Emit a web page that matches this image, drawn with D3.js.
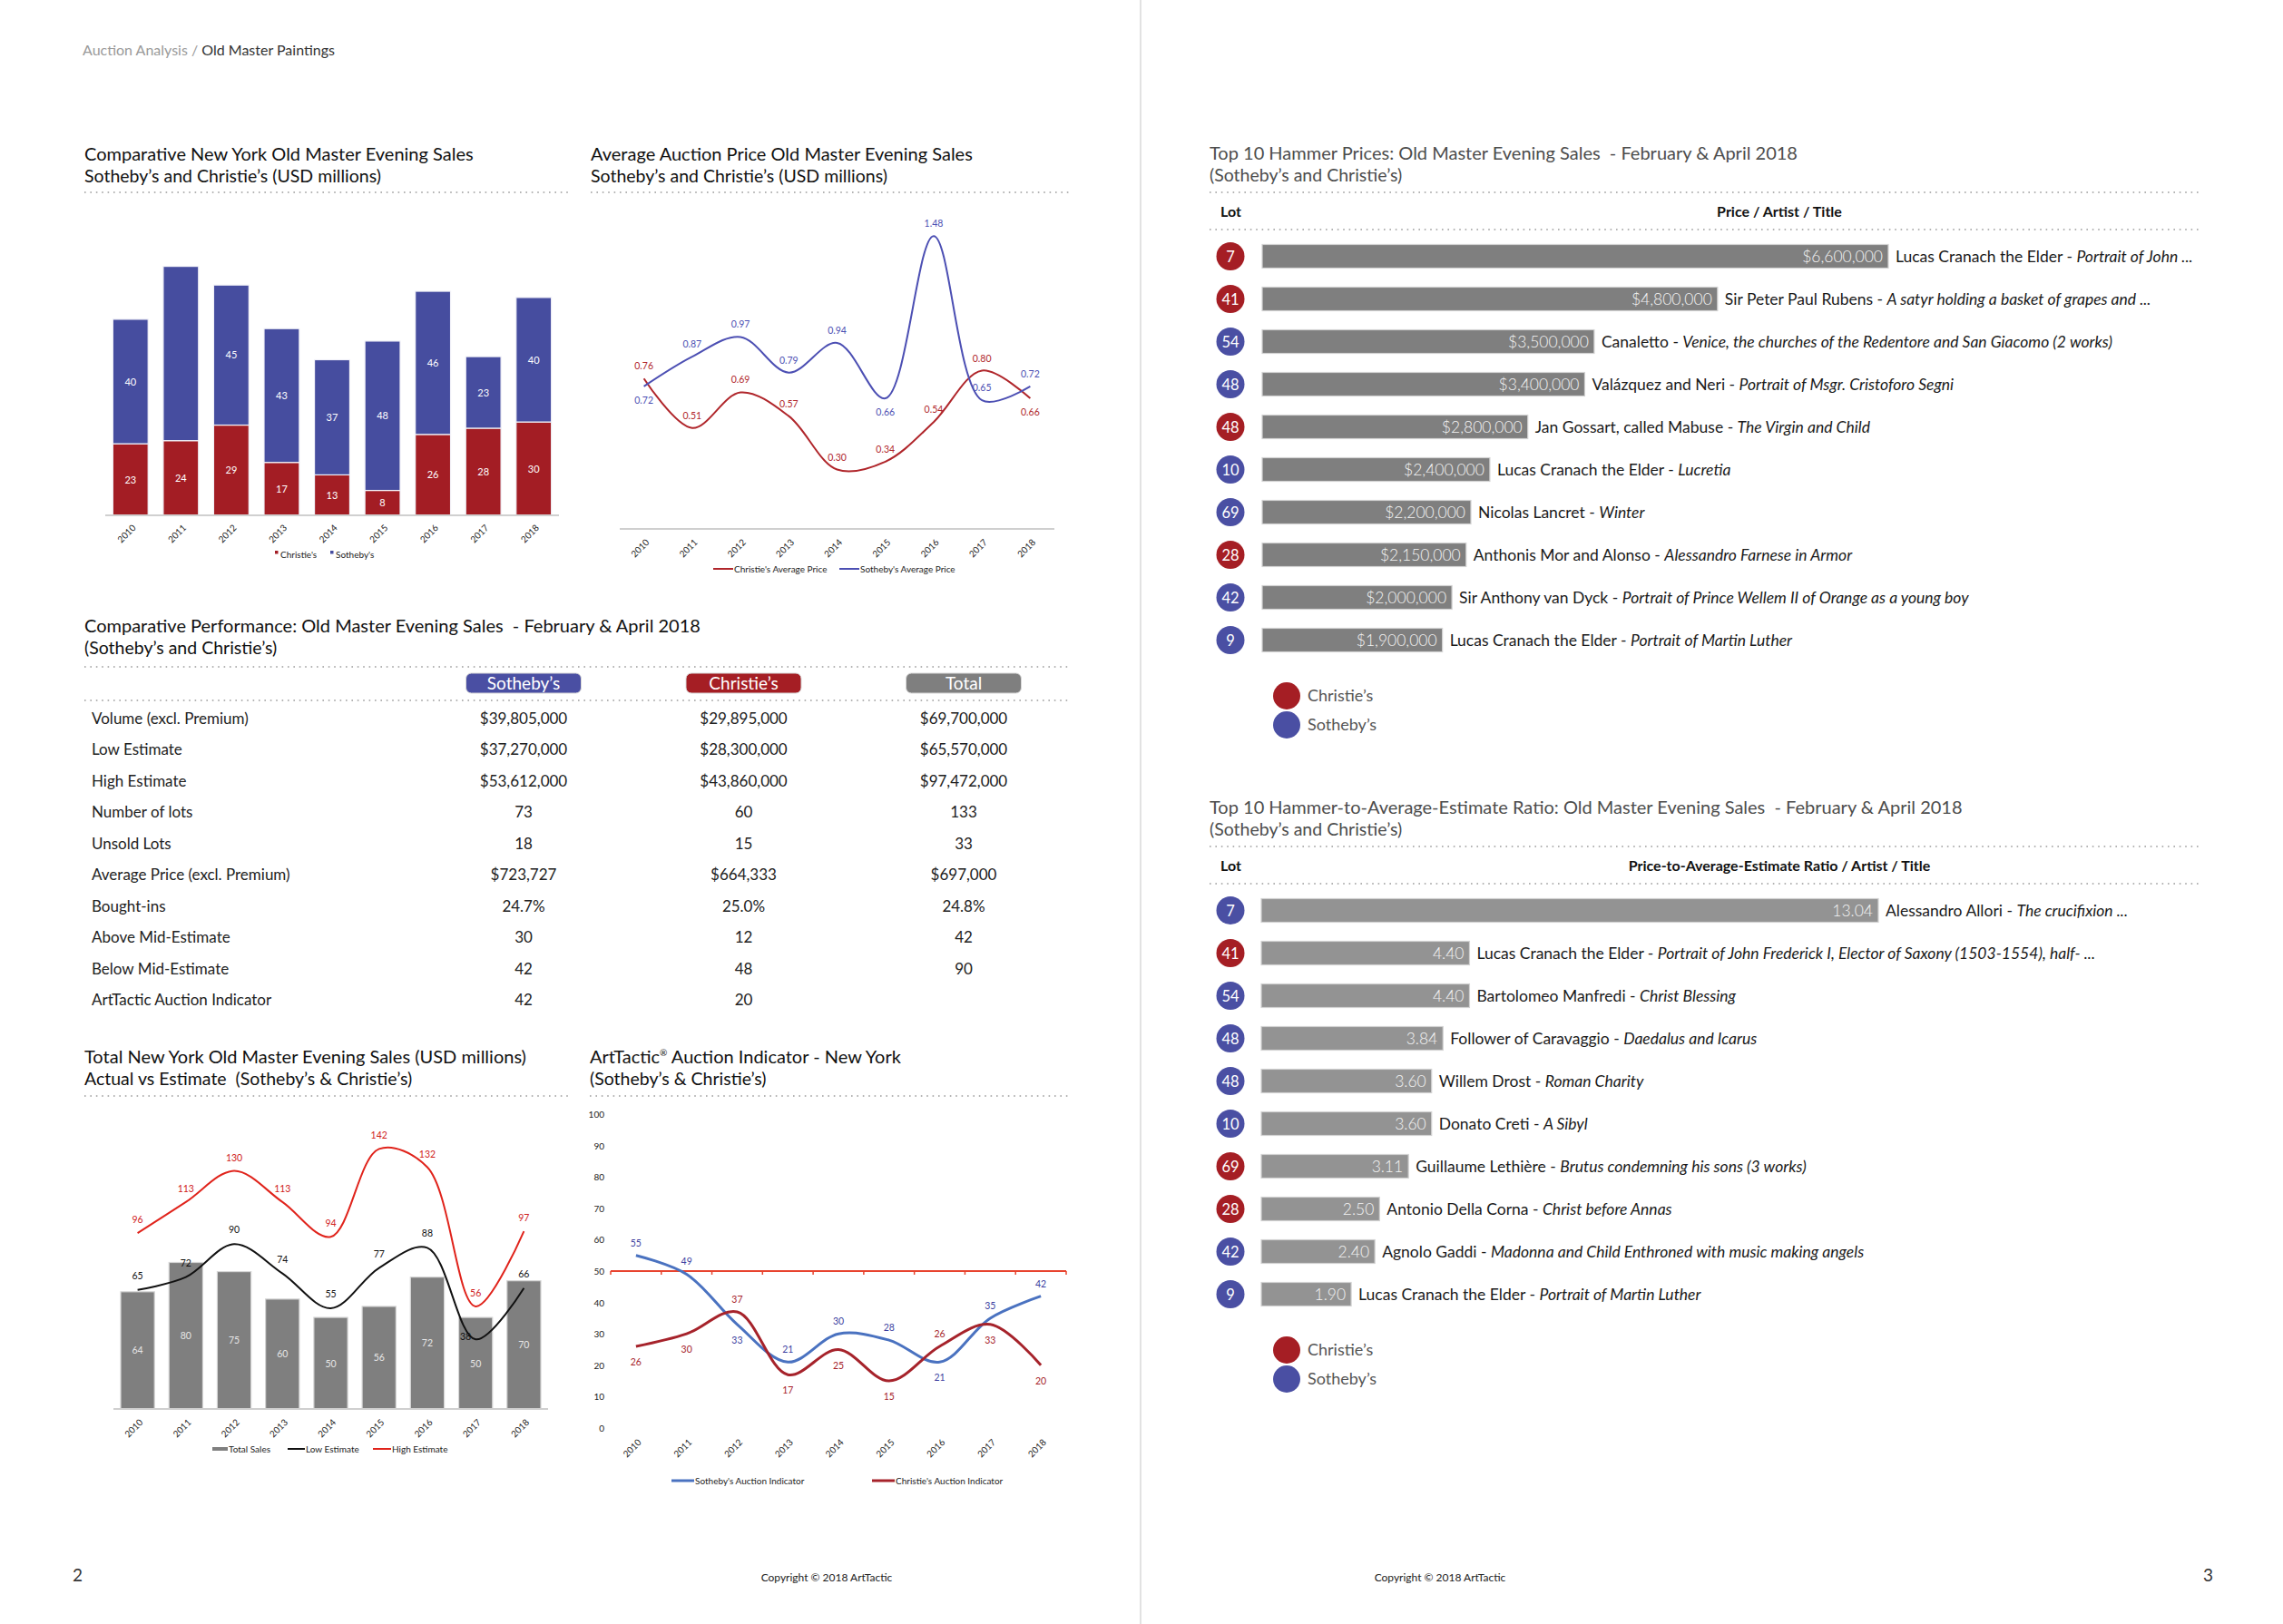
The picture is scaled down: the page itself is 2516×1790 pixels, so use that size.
<!DOCTYPE html>
<html><head><meta charset="utf-8">
<script src="https://cdn.jsdelivr.net/npm/d3@7"></script>
<style>
html,body{margin:0;padding:0;background:#fff;}
svg{display:block;font-family:Lato,"Open Sans",sans-serif;}
</style></head><body>
<svg id="page" width="2516" height="1790"></svg>
<script>
// ---------------- DATA ----------------
const years = ["2010","2011","2012","2013","2014","2015","2016","2017","2018"];

// Comparative NY Old Master Evening Sales (USD m)
const christieSales = [23,24,29,17,13,8,26,28,30];
const sothebySales  = [40,56,45,43,37,48,46,23,40];
const sothebySalesShowLabel = [true,false,true,true,true,true,true,true,true];

// Average auction price (USD m)
const christieAvg = [0.76,0.51,0.69,0.57,0.30,0.34,0.54,0.80,0.66];
const sothebyAvg  = [0.72,0.87,0.97,0.79,0.94,0.66,1.48,0.65,0.72];
const christieAvgLabelPos = ["above","above","above","above","above","above","above","above","below"];
const sothebyAvgLabelPos  = ["below","above","above","above","above","below","above","above","above"];

// Total NY sales vs estimate
const totalSales   = [64,80,75,60,50,56,72,50,70];
const lowEstimate  = [65,72,90,74,55,77,88,38,66];
const highEstimate = [96,113,130,113,94,142,132,56,97];
const lowLabelPos  = ["above","above","above","above","above","above","above","left","above"];

// ArtTactic auction indicator
const sothebyIndicator  = [55,49,33,21,30,28,21,35,42];
const christieIndicator = [26,30,37,17,25,15,26,33,20];
const sothebyIndLabelPos  = ["above","above","below","above","above","above","below","above","above"];
const christieIndLabelPos = ["below","below","above","below","below","below","above","below","below"];
const indicatorTicks = [0,10,20,30,40,50,60,70,80,90,100];

// Comparative performance table
const tableColumns = ["Sotheby's","Christie's","Total"];
const tableRowLabels = ["Volume (excl. Premium)","Low Estimate","High Estimate","Number of lots","Unsold Lots","Average Price (excl. Premium)","Bought-ins","Above Mid-Estimate","Below Mid-Estimate","ArtTactic Auction Indicator"];
const sothebyTable  = ["$39,805,000","$37,270,000","$53,612,000","73","18","$723,727","24.7%","30","42","42"];
const christieTable = ["$29,895,000","$28,300,000","$43,860,000","60","15","$664,333","25.0%","12","48","20"];
const totalTable    = ["$69,700,000","$65,570,000","$97,472,000","133","33","$697,000","24.8%","42","90",""];

// Top 10 hammer prices
const hammerLots   = [7,41,54,48,48,10,69,28,42,9];
const hammerHouse  = ["C","C","S","S","C","S","S","C","S","S"];
const hammerPrices = [6600000,4800000,3500000,3400000,2800000,2400000,2200000,2150000,2000000,1900000];
const hammerArtists = ["Lucas Cranach the Elder","Sir Peter Paul Rubens","Canaletto","Valázquez and Neri","Jan Gossart, called Mabuse","Lucas Cranach the Elder","Nicolas Lancret","Anthonis Mor and Alonso","Sir Anthony van Dyck","Lucas Cranach the Elder"];
const hammerTitles = ["Portrait of John ...","A satyr holding a basket of grapes and ...","Venice, the churches of the Redentore and San Giacomo (2 works)","Portrait of Msgr. Cristoforo Segni","The Virgin and Child","Lucretia","Winter","Alessandro Farnese in Armor","Portrait of Prince Wellem II of Orange as a young boy","Portrait of Martin Luther"];

// Top 10 hammer-to-average-estimate ratio
const ratioLots   = [7,41,54,48,48,10,69,28,42,9];
const ratioHouse  = ["S","C","S","S","S","S","C","C","S","S"];
const ratioValues = [13.04,4.40,4.40,3.84,3.60,3.60,3.11,2.50,2.40,1.90];
const ratioArtists = ["Alessandro Allori","Lucas Cranach the Elder","Bartolomeo Manfredi","Follower of Caravaggio","Willem Drost","Donato Creti","Guillaume Lethière","Antonio Della Corna","Agnolo Gaddi","Lucas Cranach the Elder"];
const ratioTitles = ["The crucifixion ...","Portrait of John Frederick I, Elector of Saxony (1503-1554), half- ...","Christ Blessing","Daedalus and Icarus","Roman Charity","A Sibyl","Brutus condemning his sons (3 works)","Christ before Annas","Madonna and Child Enthroned with music making angels","Portrait of Martin Luther"];

// ---------------- DRAWING ----------------
const RED = "#a31d24", BLUE = "#464d9f", GREY = "#7f7f7f";
const svg = d3.select("#page");
svg.append("rect").attr("width",2516).attr("height",1790).attr("fill","#fff");

// page divider
svg.append("line").attr("x1",1257).attr("x2",1257).attr("y1",0).attr("y2",1790).attr("stroke","#cfcfcf").attr("stroke-width",1.2);

// header
const hdr = svg.append("text").attr("x",91).attr("y",61).attr("font-size",16);
hdr.append("tspan").attr("fill","#9a9a9a").text("Auction Analysis / ");
hdr.append("tspan").attr("fill","#333").text("Old Master Paintings");

// footer
svg.append("text").attr("x",80).attr("y",1743).attr("font-size",19).attr("fill","#333").text("2");
svg.append("text").attr("x",2428).attr("y",1743).attr("font-size",19).attr("fill","#333").text("3");
svg.append("text").attr("x",911).attr("y",1743).attr("font-size",12).attr("text-anchor","middle").attr("fill","#222").text("Copyright © 2018 ArtTactic");
svg.append("text").attr("x",1587).attr("y",1743).attr("font-size",12).attr("text-anchor","middle").attr("fill","#222").text("Copyright © 2018 ArtTactic");

function titleBlock(x, y, l1, l2, color, size){
  const s = size || 20;
  svg.append("text").attr("x",x).attr("y",y).attr("font-size",s).attr("fill",color||"#111").text(l1);
  svg.append("text").attr("x",x).attr("y",y+23.5).attr("font-size",s-0.5).attr("fill",color||"#111").text(l2);
}
function dotted(x1,x2,y){
  svg.append("line").attr("x1",x1).attr("x2",x2).attr("y1",y).attr("y2",y)
    .attr("stroke","#9c9c9c").attr("stroke-width",1.6).attr("stroke-dasharray","1.6 4.8");
}
function yearLabels(g, xf, y0){
  g.append("g").selectAll("text").data(years).join("text")
    .attr("transform", d => `translate(${xf(d)+4},${y0}) rotate(-45)`)
    .attr("text-anchor","end").attr("dy","0.35em").attr("font-size",10).attr("fill","#222").text(d=>d);
}
function offsetY(pos){ return pos==="above" ? -10 : pos==="below" ? 19 : 3; }

// ===== Chart 1: stacked bars =====
{
  titleBlock(93,177,"Comparative New York Old Master Evening Sales","Sotheby’s and Christie’s (USD millions)");
  dotted(93,626,212);
  const g = svg.append("g");
  const x = d3.scaleBand(years,[116,616]).paddingInner(0.3).paddingOuter(0.15);
  const y = d3.scaleLinear([0,100],[568,225]);
  const rows = years.map((yr,i)=>({year:yr, christie:christieSales[i], sotheby:sothebySales[i], i}));
  const stack = d3.stack().keys(["christie","sotheby"])(rows);
  const cols = {christie:RED, sotheby:BLUE};
  stack.forEach(layer=>{
    g.append("g").selectAll("rect").data(layer).join("rect")
      .attr("x",d=>x(d.data.year)).attr("width",x.bandwidth())
      .attr("y",d=>y(d[1])).attr("height",d=>y(d[0])-y(d[1]))
      .attr("fill",cols[layer.key]).attr("stroke","#f2f2f8").attr("stroke-width",1.2);
    g.append("g").selectAll("text").data(layer.filter(d=> layer.key==="christie" || sothebySalesShowLabel[d.data.i])).join("text")
      .attr("x",d=>x(d.data.year)+x.bandwidth()/2).attr("y",d=>y((d[0]+d[1])/2)+4)
      .attr("text-anchor","middle").attr("font-size",11).attr("fill","#fff").text(d=>d.data[layer.key]);
  });
  g.append("line").attr("x1",116).attr("x2",616).attr("y1",568).attr("y2",568).attr("stroke","#d0d0d0").attr("stroke-width",2);
  yearLabels(g, d=>x(d)+x.bandwidth()/2, 580);
  const lg = g.append("g").attr("font-size",10).attr("fill","#222");
  [["Christie's",RED,303],["Sotheby's",BLUE,364]].forEach(([t,c,lx])=>{
    lg.append("rect").attr("x",lx).attr("y",607).attr("width",3.5).attr("height",3.5).attr("fill",c);
    lg.append("text").attr("x",lx+6).attr("y",615).text(t);
  });
}

// ===== Chart 2: average price lines =====
{
  titleBlock(651,177,"Average Auction Price Old Master Evening Sales","Sotheby’s and Christie’s (USD millions)");
  dotted(651,1181,212);
  const g = svg.append("g");
  const x = d3.scalePoint(years,[683,1162]).padding(0.5);
  const y = d3.scaleLinear([0,1.6],[583,234]);
  g.append("line").attr("x1",683).attr("x2",1162).attr("y1",583).attr("y2",583).attr("stroke","#cfcfcf").attr("stroke-width",2);
  const line = d3.line().x((d,i)=>x(years[i])).y(d=>y(d)).curve(d3.curveCatmullRom.alpha(0.5));
  const series = [
    {vals:christieAvg, pos:christieAvgLabelPos, col:"#b0262b"},
    {vals:sothebyAvg, pos:sothebyAvgLabelPos, col:"#4c4fb3"}
  ];
  series.forEach(s=>{
    g.append("path").attr("d",line(s.vals)).attr("fill","none").attr("stroke",s.col).attr("stroke-width",2);
  });
  series.forEach(s=>{
    g.append("g").selectAll("text").data(s.vals).join("text")
      .attr("x",(d,i)=>x(years[i])).attr("y",(d,i)=>y(d)+offsetY(s.pos[i]))
      .attr("text-anchor","middle").attr("font-size",10.5).attr("fill",s.col).text(d=>d.toFixed(2));
  });
  yearLabels(g, d=>x(d), 596);
  const lg = g.append("g").attr("font-size",10).attr("fill","#222");
  [["Christie's Average Price","#b0262b",786],["Sotheby's Average Price","#4c4fb3",925]].forEach(([t,c,lx])=>{
    lg.append("line").attr("x1",lx).attr("x2",lx+22).attr("y1",627).attr("y2",627).attr("stroke",c).attr("stroke-width",2);
    lg.append("text").attr("x",lx+23).attr("y",631).text(t);
  });
}

// ===== Table: comparative performance =====
{
  titleBlock(93,697,"Comparative Performance: Old Master Evening Sales \u00a0- February & April 2018","(Sotheby’s and Christie’s)");
  dotted(93,1181,735);
  dotted(93,1181,772);
  const colX = d3.scalePoint(tableColumns,[577,1062]);
  const colFill = {"Sotheby's":"#4a4fa3","Christie's":"#a51e24","Total":"#7f7f7f"};
  const g = svg.append("g");
  tableColumns.forEach(c=>{
    g.append("rect").attr("x",colX(c)-63.5).attr("y",742).attr("width",127).attr("height",22).attr("rx",6)
      .attr("fill",colFill[c]).attr("stroke","#d8d8d8").attr("stroke-width",1);
    g.append("text").attr("x",colX(c)).attr("y",760).attr("text-anchor","middle").attr("font-size",19).attr("fill","#fff")
      .text(c==="Total"?"Total":c.replace("'","’"));
  });
  const rowY = d3.scalePoint(d3.range(tableRowLabels.length),[792,1102]);
  const cols = [sothebyTable, christieTable, totalTable];
  tableRowLabels.forEach((lab,i)=>{
    g.append("text").attr("x",101).attr("y",rowY(i)+6).attr("font-size",17).attr("fill","#222").text(lab);
    cols.forEach((col,j)=>{
      g.append("text").attr("x",colX(tableColumns[j])).attr("y",rowY(i)+6).attr("text-anchor","middle")
        .attr("font-size",17).attr("fill","#222").text(col[i]);
    });
  });
}

// ===== Chart 3: total sales vs estimate =====
{
  titleBlock(93,1172,"Total New York Old Master Evening Sales (USD millions)","Actual vs Estimate \u00a0(Sotheby’s & Christie’s)");
  dotted(93,626,1208);
  const g = svg.append("g");
  const x = d3.scaleBand(years,[125,604]).paddingInner(0.3).paddingOuter(0.15);
  const y = d3.scaleLinear([0,160],[1553,1230]);
  const cx = d => x(d)+x.bandwidth()/2;
  g.append("g").selectAll("rect").data(totalSales).join("rect")
    .attr("x",(d,i)=>x(years[i])).attr("width",x.bandwidth())
    .attr("y",d=>y(d)).attr("height",d=>y(0)-y(d))
    .attr("fill",GREY).attr("stroke","#d6d6d6").attr("stroke-width",1.2);
  g.append("g").selectAll("text").data(totalSales).join("text")
    .attr("x",(d,i)=>cx(years[i])).attr("y",d=>y(d/2)+4).attr("text-anchor","middle")
    .attr("font-size",10.5).attr("fill","#e6e6e6").text(d=>d);
  g.append("line").attr("x1",125).attr("x2",604).attr("y1",1553).attr("y2",1553).attr("stroke","#cfcfcf").attr("stroke-width",2);
  const line = d3.line().x((d,i)=>cx(years[i])).y(d=>y(d)).curve(d3.curveCatmullRom.alpha(0.5));
  g.append("path").attr("d",line(highEstimate)).attr("fill","none").attr("stroke","#e0231b").attr("stroke-width",2);
  g.append("path").attr("d",line(lowEstimate)).attr("fill","none").attr("stroke","#111").attr("stroke-width",2);
  g.append("g").selectAll("text").data(highEstimate).join("text")
    .attr("x",(d,i)=>cx(years[i])).attr("y",d=>y(d)-11).attr("text-anchor","middle")
    .attr("font-size",10.5).attr("fill","#d0211b").text(d=>d);
  g.append("g").selectAll("text").data(lowEstimate).join("text")
    .attr("x",(d,i)=>cx(years[i]) + (lowLabelPos[i]==="left" ? -5 : 0))
    .attr("y",(d,i)=>y(d)+(lowLabelPos[i]==="left" ? 1 : -12))
    .attr("text-anchor",(d,i)=>lowLabelPos[i]==="left"?"end":"middle")
    .attr("font-size",10.5).attr("fill","#111").text(d=>d);
  yearLabels(g, cx, 1566);
  const lg = g.append("g").attr("font-size",10).attr("fill","#222");
  lg.append("rect").attr("x",234).attr("y",1595).attr("width",17).attr("height",4).attr("fill",GREY);
  lg.append("text").attr("x",252).attr("y",1601).text("Total Sales");
  lg.append("line").attr("x1",317).attr("x2",336).attr("y1",1597).attr("y2",1597).attr("stroke","#111").attr("stroke-width",2);
  lg.append("text").attr("x",337).attr("y",1601).text("Low Estimate");
  lg.append("line").attr("x1",411).attr("x2",431).attr("y1",1597).attr("y2",1597).attr("stroke","#e0231b").attr("stroke-width",2);
  lg.append("text").attr("x",432).attr("y",1601).text("High Estimate");
}

// ===== Chart 4: ArtTactic indicator =====
{
  const t = svg.append("text").attr("x",650).attr("y",1172).attr("font-size",20).attr("fill","#111");
  t.append("tspan").text("ArtTactic");
  t.append("tspan").attr("font-size",10).attr("dy",-8).text("®");
  t.append("tspan").attr("dy",8).text(" Auction Indicator - New York");
  svg.append("text").attr("x",650).attr("y",1195.5).attr("font-size",19.5).attr("fill","#111").text("(Sotheby’s & Christie’s)");
  dotted(650,1181,1208);
  const g = svg.append("g");
  const x = d3.scaleBand(years,[673,1175]);
  const y = d3.scaleLinear([0,100],[1574,1228]);
  const cx = d => x(d)+x.bandwidth()/2;
  g.append("g").selectAll("text").data(indicatorTicks).join("text")
    .attr("x",666).attr("y",d=>y(d)+4).attr("text-anchor","end").attr("font-size",10).attr("fill","#222").text(d=>d);
  // axis crossing at 50
  g.append("line").attr("x1",673).attr("x2",1175).attr("y1",y(50)).attr("y2",y(50)).attr("stroke","#e8432e").attr("stroke-width",2);
  const bounds = years.map(d=>x(d)).concat([x(years[years.length-1])+x.bandwidth()]);
  g.append("g").selectAll("line").data(bounds).join("line")
    .attr("x1",d=>d).attr("x2",d=>d).attr("y1",y(50)).attr("y2",y(50)+4).attr("stroke","#e8432e").attr("stroke-width",1.5);
  const line = d3.line().x((d,i)=>cx(years[i])).y(d=>y(d)).curve(d3.curveCatmullRom.alpha(0.5));
  g.append("path").attr("d",line(sothebyIndicator)).attr("fill","none").attr("stroke","#4a72c0").attr("stroke-width",3);
  g.append("path").attr("d",line(christieIndicator)).attr("fill","none").attr("stroke","#a6232b").attr("stroke-width",3);
  [[sothebyIndicator,sothebyIndLabelPos,"#3d3f9f"],[christieIndicator,christieIndLabelPos,"#a6232b"]].forEach(([vals,pos,col])=>{
    g.append("g").selectAll("text").data(vals).join("text")
      .attr("x",(d,i)=>cx(years[i])).attr("y",(d,i)=>y(d)+(pos[i]==="above"?-10:21))
      .attr("text-anchor","middle").attr("font-size",10.5).attr("fill",col).text(d=>d);
  });
  yearLabels(g, cx, 1588);
  const lg = g.append("g").attr("font-size",10).attr("fill","#222");
  [["Sotheby's Auction Indicator","#4a72c0",740],["Christie's Auction Indicator","#a6232b",961]].forEach(([tx,c,lx])=>{
    lg.append("line").attr("x1",lx).attr("x2",lx+25).attr("y1",1632).attr("y2",1632).attr("stroke",c).attr("stroke-width",3);
    lg.append("text").attr("x",lx+26).attr("y",1636).text(tx);
  });
}

// ===== Right page tables =====
function rankedTable(opts){
  const {titleY, top, lots, house, values, artists, titles, xScale, fmt, barFill, legendY, header} = opts;
  titleBlock(1333,titleY,opts.title,"(Sotheby’s and Christie’s)","#4d4d4d",20);
  dotted(1333,2423,top);
  svg.append("text").attr("x",1345).attr("y",top+27).attr("font-size",16).attr("font-weight",700).attr("fill","#111").text("Lot");
  svg.append("text").attr("x",1961).attr("y",top+27).attr("text-anchor","middle").attr("font-size",16).attr("font-weight",700).attr("fill","#111").text(header);
  dotted(1333,2423,top+41);
  const rowY = d3.scalePoint(d3.range(lots.length),[top+70.5, top+70.5+47*9]);
  const g = svg.append("g");
  lots.forEach((lot,i)=>{
    const cy = rowY(i);
    g.append("circle").attr("cx",1356).attr("cy",cy).attr("r",15.5).attr("fill",house[i]==="C"?"#a51e24":"#4a4fa3");
    g.append("text").attr("x",1356).attr("y",cy+6).attr("text-anchor","middle").attr("font-size",16.5).attr("fill","#fff").text(lot);
    const x0 = xScale(0), x1 = xScale(values[i]);
    g.append("rect").attr("x",x0).attr("y",cy-13).attr("width",x1-x0).attr("height",26)
      .attr("fill",barFill).attr("stroke","#d2d2d2").attr("stroke-width",1.2);
    g.append("text").attr("x",x1-6).attr("y",cy+6).attr("text-anchor","end").attr("font-size",17.5).attr("font-weight",300).attr("fill","#f4f4f4").text(fmt(values[i]));
    const tx = g.append("text").attr("x",x1+8).attr("y",cy+6).attr("font-size",17.5).attr("fill","#1a1a1a");
    tx.append("tspan").text(artists[i]+" - ");
    tx.append("tspan").attr("font-style","italic").text(titles[i]);
  });
  [["Christie’s","#a51e24"],["Sotheby’s","#4a4fa3"]].forEach(([t,c],k)=>{
    g.append("circle").attr("cx",1418).attr("cy",legendY+32*k).attr("r",15).attr("fill",c);
    g.append("text").attr("x",1441).attr("y",legendY+32*k+6).attr("font-size",18).attr("fill","#555").text(t);
  });
}
rankedTable({
  title:"Top 10 Hammer Prices: Old Master Evening Sales \u00a0- February & April 2018",
  titleY:176, top:212, lots:hammerLots, house:hammerHouse, values:hammerPrices,
  artists:hammerArtists, titles:hammerTitles,
  xScale:d3.scaleLinear([0,6600000],[1391,2081]),
  fmt:d3.format("$,.0f"), barFill:"#7f7f7f", legendY:767, header:"Price / Artist / Title"
});
rankedTable({
  title:"Top 10 Hammer-to-Average-Estimate Ratio: Old Master Evening Sales \u00a0- February & April 2018",
  titleY:897, top:933, lots:ratioLots, house:ratioHouse, values:ratioValues,
  artists:ratioArtists, titles:ratioTitles,
  xScale:d3.scaleLinear([0,13.04],[1390,2070]),
  fmt:d3.format(".2f"), barFill:"#939393", legendY:1488, header:"Price-to-Average-Estimate Ratio / Artist / Title"
});
</script>
</body></html>
